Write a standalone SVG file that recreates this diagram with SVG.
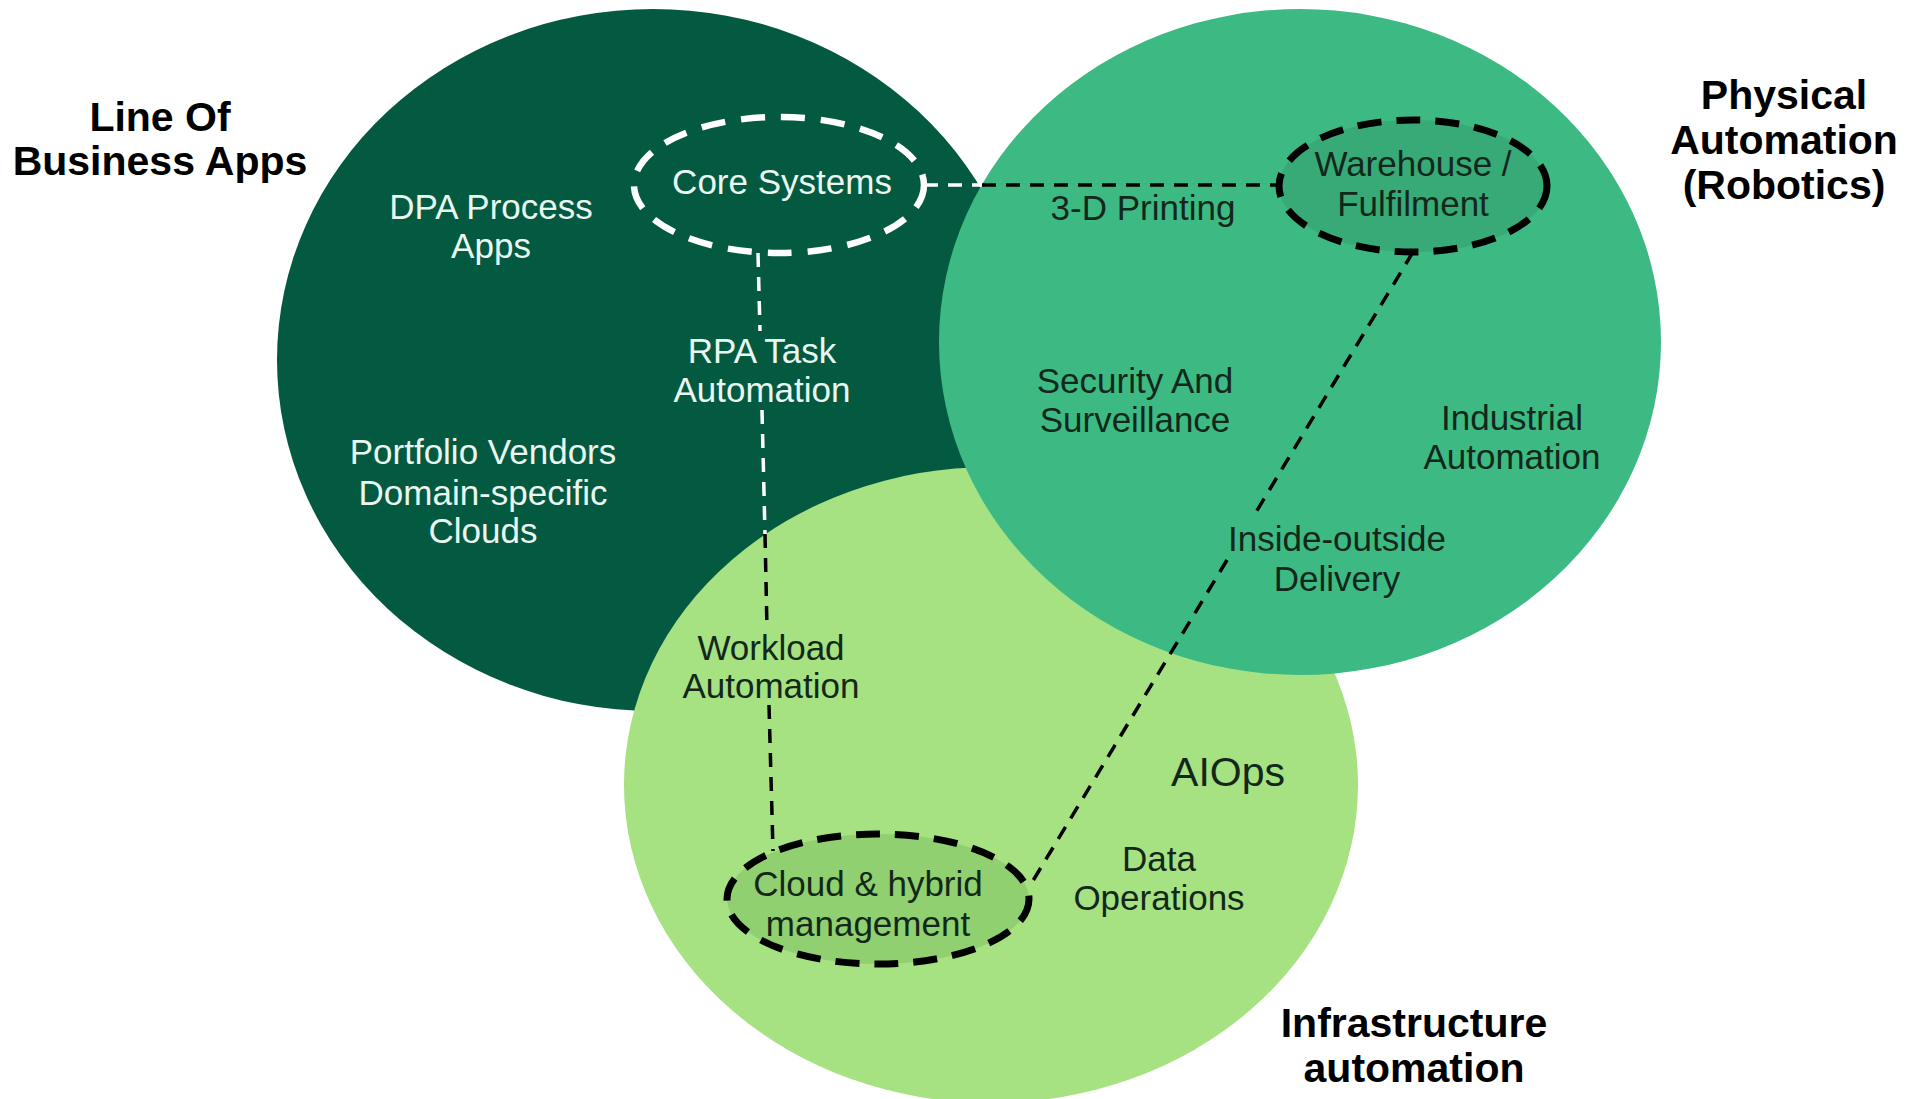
<svg xmlns="http://www.w3.org/2000/svg" width="1907" height="1099" viewBox="0 0 1907 1099">
  <style>
    .title { font-family: "Liberation Sans", Arial, sans-serif; font-weight: bold; font-size: 41px; fill: #000; text-anchor: middle; }
    .lbl { font-family: "Liberation Sans", Arial, sans-serif; font-size: 35px; text-anchor: middle; }
    .lt { fill: #eaf7f0; }
    .dk { fill: #13281b; }
    .big { font-size: 41px; }
    .wline { stroke: #ffffff; stroke-width: 3.5; stroke-dasharray: 14 10; fill: none; }
    .bline { stroke: #000000; stroke-width: 3.5; stroke-dasharray: 14 10; fill: none; }
    .ring-w { fill: none; stroke: #ffffff; stroke-width: 6.5; stroke-dasharray: 24 16; }
    .ring-b { stroke: #000000; stroke-width: 7; stroke-dasharray: 24 15; }
  </style>
  <rect width="1907" height="1099" fill="#ffffff"/>

  <!-- three overlapping domains -->
  <g id="line-of-business">
    <ellipse cx="653" cy="360" rx="376" ry="351" fill="#045a40"/>
  </g>
  <g id="infrastructure">
    <ellipse cx="991" cy="785" rx="367" ry="318" fill="#a6e182"/>
  </g>
  <g id="physical">
    <ellipse cx="1300" cy="342" rx="361" ry="333" fill="#3dba83"/>
  </g>

  <!-- dashed links between the hub ellipses -->
  <g id="connectors">
    <line class="wline" x1="924" y1="185" x2="982" y2="185"/>
    <line class="bline" x1="982" y1="185" x2="1278" y2="185"/>

    <line class="wline" x1="758" y1="253" x2="760" y2="331"/>
    <line class="wline" x1="762" y1="410" x2="765" y2="534"/>
    <line class="bline" x1="765" y1="534" x2="767" y2="629"/>
    <line class="bline" x1="769" y1="705" x2="773" y2="851"/>

    <line class="bline" x1="1413" y1="252" x2="1253" y2="517"/>
    <line class="bline" x1="1227" y1="560" x2="1031" y2="884"/>
  </g>

  <g id="core-systems">
    <ellipse class="ring-w" cx="779" cy="185" rx="145" ry="68"/>
    <text class="lbl lt" x="782" y="194">Core Systems</text>
  </g>
  <g id="warehouse">
    <ellipse class="ring-b" cx="1413" cy="186" rx="134" ry="66" fill="#37aa78"/>
    <text class="lbl dk" x="1413" y="176">Warehouse /</text>
    <text class="lbl dk" x="1413" y="216">Fulfilment</text>
  </g>
  <g id="cloud-hybrid">
    <ellipse class="ring-b" cx="878" cy="899" rx="151" ry="65" fill="#90d070"/>
    <text class="lbl dk" x="868" y="896">Cloud &amp; hybrid</text>
    <text class="lbl dk" x="868" y="936">management</text>
  </g>

  <!-- domain titles -->
  <g id="title-lob">
    <text class="title" x="160" y="131">Line Of</text>
    <text class="title" x="160" y="175">Business Apps</text>
  </g>
  <g id="title-physical">
    <text class="title" x="1784" y="109">Physical</text>
    <text class="title" x="1784" y="154">Automation</text>
    <text class="title" x="1784" y="199">(Robotics)</text>
  </g>
  <g id="title-infra">
    <text class="title" x="1414" y="1037">Infrastructure</text>
    <text class="title" x="1414" y="1082">automation</text>
  </g>

  <!-- labels inside the domains -->
  <g id="dpa">
    <text class="lbl lt" x="491" y="219">DPA Process</text>
    <text class="lbl lt" x="491" y="258">Apps</text>
  </g>
  <g id="rpa">
    <text class="lbl lt" x="762" y="363">RPA Task</text>
    <text class="lbl lt" x="762" y="402">Automation</text>
  </g>
  <g id="portfolio">
    <text class="lbl lt" x="483" y="464">Portfolio Vendors</text>
    <text class="lbl lt" x="483" y="505">Domain-specific</text>
    <text class="lbl lt" x="483" y="543">Clouds</text>
  </g>
  <g id="printing">
    <text class="lbl dk" x="1143" y="220">3-D Printing</text>
  </g>
  <g id="security">
    <text class="lbl dk" x="1135" y="393">Security And</text>
    <text class="lbl dk" x="1135" y="432">Surveillance</text>
  </g>
  <g id="industrial">
    <text class="lbl dk" x="1512" y="430">Industrial</text>
    <text class="lbl dk" x="1512" y="469">Automation</text>
  </g>
  <g id="delivery">
    <text class="lbl dk" x="1337" y="551">Inside-outside</text>
    <text class="lbl dk" x="1337" y="591">Delivery</text>
  </g>
  <g id="workload">
    <text class="lbl dk" x="771" y="660">Workload</text>
    <text class="lbl dk" x="771" y="698">Automation</text>
  </g>
  <g id="aiops">
    <text class="lbl dk big" x="1228" y="786">AIOps</text>
  </g>
  <g id="dataops">
    <text class="lbl dk" x="1159" y="871">Data</text>
    <text class="lbl dk" x="1159" y="910">Operations</text>
  </g>
</svg>
